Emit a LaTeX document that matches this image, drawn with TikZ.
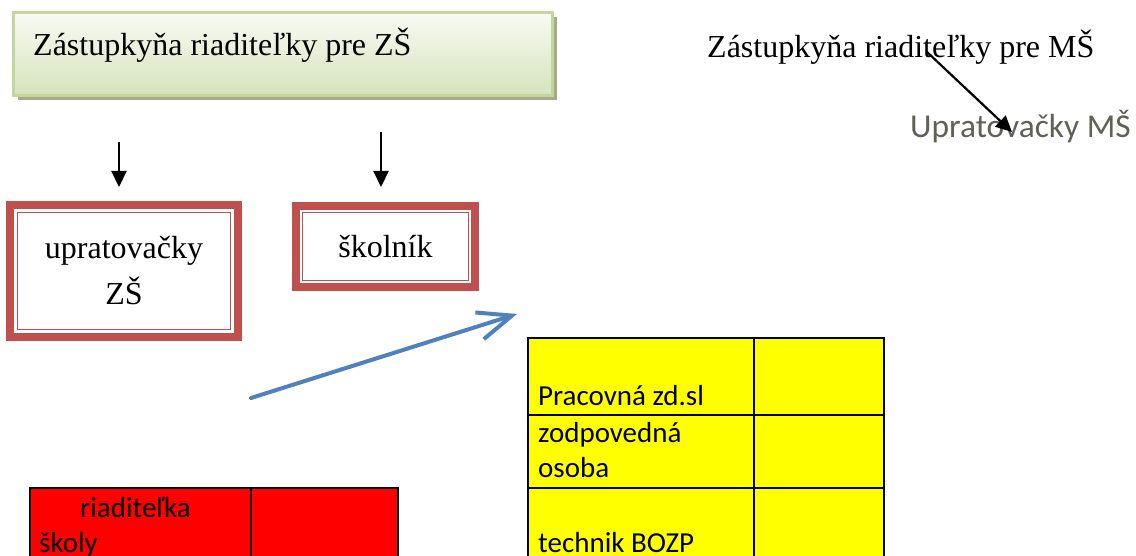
\documentclass[tikz,border=0pt]{standalone}
\usepackage{fontspec}
\setmainfont{Liberation Serif}
\newfontfamily\calibri{Carlito}
\usetikzlibrary{arrows.meta,shadows}
\definecolor{boxred}{RGB}{192,80,77}
\definecolor{grborder}{RGB}{195,214,155}
\definecolor{grtop}{RGB}{248,251,243}
\definecolor{grbot}{RGB}{214,227,188}
\definecolor{grshadow}{RGB}{165,171,140}
\definecolor{msgray}{RGB}{95,96,86}
\definecolor{arrblue}{RGB}{79,129,189}
\definecolor{tabyellow}{RGB}{255,255,0}
\definecolor{tabred}{RGB}{255,0,0}
\begin{document}
\begin{tikzpicture}[x=1pt,y=-1pt,
  serifbig/.style={font=\fontsize{32}{46}\selectfont, inner sep=0pt},
  calib/.style={font=\calibri\fontsize{29}{35}\selectfont, inner sep=0pt, anchor=base west},
  greenbox/.style={draw=grborder, line width=3pt, top color=grtop, bottom color=grbot,
    minimum width=539pt, minimum height=83pt, inner sep=0pt, outer sep=0pt,
    drop shadow={shadow xshift=4pt, shadow yshift=-5pt, fill=grshadow, opacity=1}},
  redbox/.style={draw=boxred, line width=8pt, fill=white, inner sep=0pt, outer sep=0pt,
    font=\fontsize{32}{46}\selectfont, align=center},
  innerline/.style={draw=boxred, line width=1.8pt},
  blackarrow/.style={line width=2.2pt, -{Triangle[length=16pt,width=15pt]}},
  bluearrow/.style={draw=arrblue, line width=4pt, line cap=round, -{Straight Barb[length=34pt,width=28pt]}},
  gridline/.style={draw=black, line width=2.3pt}
]
\useasboundingbox (0,0) rectangle (1136,556);

% top-left green box
\node[greenbox] (zszbox) at (283,54) {};
\node[serifbig, anchor=base west] (zsztext) at (33,56) {Zástupkyňa riaditeľky pre ZŠ};

% top-right texts
\node[serifbig, anchor=base west] (zsmtext) at (707,58) {Zástupkyňa riaditeľky pre MŠ};
\node[font=\calibri\fontsize{33.4}{40}\selectfont, text=msgray, inner sep=0pt, anchor=base west] (upms) at (910,138) {Upratovačky MŠ};
\coordinate (msfrom) at (927,52);
\coordinate (msto) at (1012,132);
\draw[blackarrow] (msfrom) -- (msto);

% down arrows
\coordinate (d1from) at (119,142);
\coordinate (d1to) at (119,187);
\coordinate (d2from) at (381,132);
\coordinate (d2to) at (381,187);
\draw[blackarrow] (d1from) -- (d1to);
\draw[blackarrow] (d2from) -- (d2to);

% red double boxes
\node[redbox, minimum width=228pt, minimum height=132pt] (upzs) at (124,271) {upratovačky\\ZŠ};
\draw[innerline] ([shift={(7.5,7.5)}]upzs.north west) rectangle ([shift={(-7.5,-7.5)}]upzs.south east);
\node[redbox, minimum width=179pt, minimum height=81pt] (skol) at (385.5,246.5) {školník};
\draw[innerline] ([shift={(6.5,6.5)}]skol.north west) rectangle ([shift={(-6.5,-6.5)}]skol.south east);

% blue arrow
\coordinate (bfrom) at (251,398);
\coordinate (bto) at (517,314);
\draw[bluearrow] (bfrom) -- (bto);

% yellow table
\fill[tabyellow] (528,338) rectangle (884,575);
\draw[gridline] (528,575) -- (528,338) -- (884,338) -- (884,575);
\draw[gridline] (754,338) -- (754,575);
\draw[gridline] (528,415) -- (884,415);
\draw[gridline] (528,488) -- (884,488);
\node[calib] (prac) at (538,405) {Pracovná zd.sl};
\node[calib] (zodp1) at (538,442) {zodpovedná};
\node[calib] (zodp2) at (538,477) {osoba};
\node[calib] (tech) at (538,552) {technik BOZP};

% red table
\fill[tabred] (30,488) rectangle (398,575);
\draw[gridline] (30,575) -- (30,488) -- (398,488) -- (398,575);
\draw[gridline] (251,488) -- (251,575);
\node[calib] (riad1) at (80,517) {riaditeľka};
\node[calib] (riad2) at (39,552) {školy};
\end{tikzpicture}
\end{document}
